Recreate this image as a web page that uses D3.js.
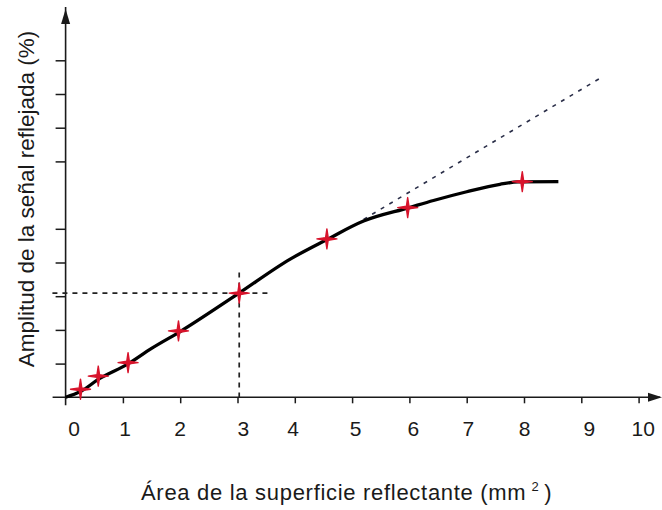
<!DOCTYPE html>
<html>
<head>
<meta charset="utf-8">
<script src="https://cdn.jsdelivr.net/npm/d3@7"></script>
<style>
  html, body { margin: 0; padding: 0; background: #fff; }
  svg { display: block; font-family: "Liberation Sans", Arial, sans-serif; }
</style>
</head>
<body>
<svg id="chart" width="662" height="510"></svg>
<script>
// Measured points (area in mm², reflected amplitude in %)
const pointX = [0.26, 0.57, 1.09, 1.97, 3.03, 4.56, 5.97, 7.97];
const pointY = [2.4, 6.3, 10.3, 19.7, 30.9, 47.0, 56.3, 64.0];

// Fitted response curve
const curveX = [0, 0.26, 0.57, 1.09, 1.5, 2, 3, 3.92, 4.56, 5.2, 6, 6.42, 7, 7.58, 7.9, 8.6];
const curveY = [0, 1.7, 5.3, 9.9, 14.5, 19.5, 30.6, 41, 46.8, 52.3, 56.3, 58.4, 61, 63.2, 63.9, 64];

// Linear extrapolation of the initial slope (% per mm²)
const tangentSlope = 10.15;
const tangentRange = [5.2, 9.33];

// Reading guides at the working point
const guidePoint = [3.03, 30.9];
const guideHRange = [-0.23, 3.56];
const guideVRange = [0, 37];

// Axis ticks
const xTicks = [0, 1, 2, 3, 4, 5, 6, 7, 8, 9, 10];
const xTickLabels = ["0", "1", "2", "3", "4", "5", "6", "7", "8", "9", "10"];
const xLabelPos = [0.15, 1.04, 2, 3.1, 3.97, 5.06, 6.07, 7.03, 8.01, 9.14, 10.08];
const yTicks = [10, 20, 30, 40, 50, 70, 80, 90, 100];

const xTitle = "Área de la superficie reflectante (mm";
const xTitleSup = "2";
const yTitle = "Amplitud de la señal reflejada (%)";

const svg = d3.select("#chart");
const x = d3.scaleLinear().domain([0, 10]).range([65.6, 638.6]);
const y = d3.scaleLinear().domain([0, 100]).range([397.3, 60.3]);

const ink = "#1a1a1a";

// Ticks
svg.append("g")
  .attr("transform", `translate(${x(0)},0)`)
  .call(d3.axisLeft(y).tickValues(yTicks).tickSize(10).tickFormat(""))
  .call(g => g.select(".domain").remove())
  .call(g => g.selectAll("line").attr("stroke", ink).attr("stroke-width", 1.5));

svg.append("g")
  .attr("transform", `translate(0,${y(0)})`)
  .call(d3.axisBottom(x).tickValues(xTicks.slice(1)).tickSize(6).tickFormat(""))
  .call(g => g.select(".domain").remove())
  .call(g => g.selectAll("line").attr("stroke", ink).attr("stroke-width", 1.5));

// Axis lines with arrow heads
svg.append("line")
  .attr("x1", x(0)).attr("x2", x(0))
  .attr("y1", y(0) + 8).attr("y2", 7)
  .attr("stroke", ink).attr("stroke-width", 1.6);
svg.append("line")
  .attr("x1", x(0) - 13).attr("x2", 660)
  .attr("y1", y(0)).attr("y2", y(0))
  .attr("stroke", ink).attr("stroke-width", 1.6);

svg.append("path")
  .attr("d", `M${x(0)},9 L${x(0) + 4.5},24 L${x(0) - 4.5},24 Z`)
  .attr("fill", ink);
svg.append("path")
  .attr("d", `M662,${y(0)} L648,${y(0) - 4.5} L648,${y(0) + 4.5} Z`)
  .attr("fill", ink);

// Tick labels
svg.append("g")
  .selectAll("text")
  .data(xTickLabels)
  .join("text")
  .attr("x", (d, i) => x(xLabelPos[i]))
  .attr("y", 436)
  .attr("text-anchor", "middle")
  .attr("font-size", 21)
  .attr("fill", ink)
  .text(d => d);

// Reading guides
const guideStyle = sel => sel
  .attr("stroke", "#222").attr("stroke-width", 1.7)
  .attr("stroke-dasharray", "5,5").attr("fill", "none");

svg.append("line")
  .attr("x1", x(guideHRange[0])).attr("x2", x(guideHRange[1]))
  .attr("y1", y(guidePoint[1])).attr("y2", y(guidePoint[1]))
  .call(guideStyle);
svg.append("line")
  .attr("x1", x(guidePoint[0])).attr("x2", x(guidePoint[0]))
  .attr("y1", y(guideVRange[1])).attr("y2", y(guideVRange[0]))
  .call(guideStyle);

// Extrapolated linear response
svg.append("line")
  .attr("x1", x(tangentRange[0])).attr("y1", y(tangentSlope * tangentRange[0]))
  .attr("x2", x(tangentRange[1])).attr("y2", y(tangentSlope * tangentRange[1]))
  .attr("stroke", "#2a2e48").attr("stroke-width", 1.6)
  .attr("stroke-dasharray", "4,6");

// Response curve
const line = d3.line()
  .x(d => x(d[0]))
  .y(d => y(d[1]))
  .curve(d3.curveMonotoneX);

svg.append("path")
  .datum(curveX.map((v, i) => [v, curveY[i]]))
  .attr("d", line)
  .attr("fill", "none")
  .attr("stroke", "#000")
  .attr("stroke-width", 3.3)
  .attr("stroke-linejoin", "round");

// Thin four-armed cross marker
const cross = {
  draw(ctx, size) {
    const r = Math.sqrt(size) / 2;
    const w = 1.3;
    ctx.moveTo(0, -r);
    ctx.lineTo(w, -w);
    ctx.lineTo(r, 0);
    ctx.lineTo(w, w);
    ctx.lineTo(0, r);
    ctx.lineTo(-w, w);
    ctx.lineTo(-r, 0);
    ctx.lineTo(-w, -w);
    ctx.closePath();
  }
};

svg.append("g")
  .selectAll("path")
  .data(pointX.map((v, i) => [v, pointY[i]]))
  .join("path")
  .attr("transform", d => `translate(${x(d[0])},${y(d[1])})`)
  .attr("d", d3.symbol().type(cross).size(20 * 20))
  .attr("fill", "#d8142c")
  .attr("stroke", "#d8142c")
  .attr("stroke-width", 1.4)
  .attr("stroke-linejoin", "round");

// Axis titles
const xt = svg.append("text")
  .attr("x", 141).attr("y", 500)
  .attr("font-size", 22)
  .attr("letter-spacing", 0.7)
  .attr("fill", ink);
xt.append("tspan").text(xTitle);
xt.append("tspan").attr("dx", 5).attr("dy", -9).attr("font-size", 13).text(xTitleSup);
xt.append("tspan").attr("dx", 5).attr("dy", 9).text(")");

svg.append("text")
  .attr("transform", "translate(34,199) rotate(-90)")
  .attr("text-anchor", "middle")
  .attr("font-size", 22.5)
  .attr("fill", ink)
  .text(yTitle);
</script>
</body>
</html>
